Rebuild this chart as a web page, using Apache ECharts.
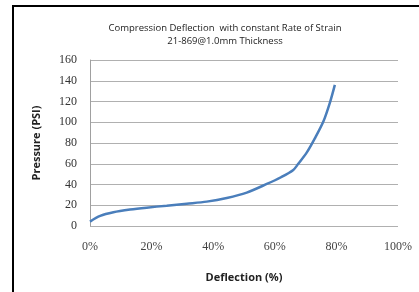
<!DOCTYPE html>
<html>
<head>
<meta charset="utf-8">
<script src="https://cdn.jsdelivr.net/npm/echarts@6/dist/echarts.min.js"></script>
<style>
    html, body {margin: 0; padding: 0; background: #fff;}
    #chart {width: 419px; height: 292px;}
    #frame {position: absolute; left: 12px; top: 5px; width: 420px; height: 300px;
        border-left: 2px solid #000; border-top: 2px solid #000; pointer-events: none;}
</style>
</head>
<body>
<div id="chart"></div>
<div id="frame"></div>
<script>
// deflection (%) vs pressure (PSI)
var deflection = [0, 3.3, 7.6, 13, 18.4, 24.9, 31.4, 37.9, 44.4, 50.9, 57.4, 62, 66, 67.5, 70.4, 73, 75.8, 77.9, 79.5];
var pressure = [4.2, 9.7, 13.2, 15.8, 17.7, 19.6, 21.5, 23.5, 27, 32.2, 40.5, 47, 54, 59.5, 71, 84.5, 101, 119, 136];

var data = [];
for (i = 0; i < deflection.length; i++) {
    data.push([deflection[i], pressure[i]]);
}

var dom = document.getElementById("chart");
var myChart = echarts.init(dom);
option = {
    animation: false,
    title: {
        text: 'Compression Deflection  with constant Rate of Strain\n21-869@1.0mm Thickness',
        left: 220,
        top: 17,
        textAlign: 'center',
        textStyle: {
            fontFamily: 'Open Sans',
            fontSize: 9.5,
            fontWeight: 500,
            color: '#222',
            lineHeight: 13
        }
    },
    grid: {left: 90, right: 21, top: 60, bottom: 66},
    xAxis: {
        type: 'value',
        min: 0,
        max: 100,
        interval: 20,
        name: 'Deflection (%)',
        nameLocation: 'middle',
        nameGap: 46,
        nameTextStyle: {fontFamily: 'Open Sans', fontSize: 11, fontWeight: 'bold', color: '#222'},
        axisLine: {show: false},
        axisTick: {show: false},
        splitLine: {show: false},
        axisLabel: {
            formatter: '{value}%',
            margin: 15,
            fontFamily: 'Liberation Serif',
            fontSize: 12,
            color: '#444'
        }
    },
    yAxis: {
        type: 'value',
        min: 0,
        max: 160,
        interval: 20,
        name: 'Pressure (PSI)',
        nameLocation: 'middle',
        nameGap: 48,
        nameTextStyle: {fontFamily: 'Open Sans', fontSize: 11, fontWeight: 'bold', color: '#222'},
        axisLine: {show: true, lineStyle: {color: '#a0a0a0', width: 1}},
        axisTick: {show: false},
        splitLine: {lineStyle: {color: '#b0b0b0', width: 1}},
        axisLabel: {
            margin: 13,
            fontFamily: 'Liberation Serif',
            fontSize: 12,
            color: '#333'
        }
    },
    series: [
        {
            type: 'line',
            data: data,
            smooth: 0.3,
            showSymbol: false,
            lineStyle: {color: '#4a7ebb', width: 2.5}
        }
    ]
};
myChart.setOption(option, true);
</script>
</body>
</html>
